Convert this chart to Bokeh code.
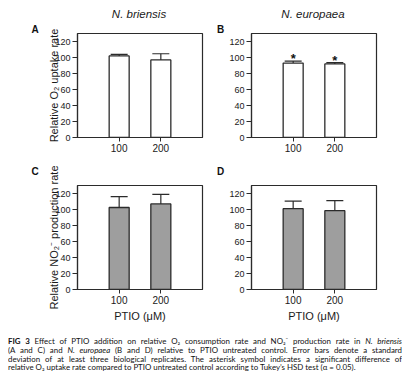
from bokeh.plotting import figure
from bokeh.models import (ColumnDataSource, FactorRange, Range1d, FixedTicker,
                          Whisker, TeeHead, Div)
from bokeh.layouts import column, row
from bokeh.core.properties import value
from bokeh.embed import file_html
from bokeh.resources import INLINE

# ---- data ----
doses = ["100", "200"]
species = ["N. briensis", "N. europaea"]
panel_letters = ["A", "B", "C", "D"]
y_ticks = [0, 20, 40, 60, 80, 100, 120]

o2_briensis = [102, 97]
o2_briensis_sd = [2, 7.7]
o2_europaea = [93, 92]
o2_europaea_sd = [2.5, 1.5]
no2_briensis = [102.5, 107]
no2_briensis_sd = [13.5, 12]
no2_europaea = [101, 98.5]
no2_europaea_sd = [9.5, 12.5]

sig_o2_briensis = ["", ""]
sig_o2_europaea = ["*", "*"]
sig_no2_briensis = ["", ""]
sig_no2_europaea = ["", ""]

ylabel_o2 = "Relative O\u2082 uptake rate"
ylabel_no2 = "Relative NO\u2082\u207b production rate"
xlabel = "PTIO (\u03bcM)"

FONT = "Liberation Sans"
DARK = "#2b2b2b"
TXT = "#1a1a1a"


def make_panel(vals, sds, sig, fill, ylabel, xlab,
               width, height, left, right, top, bottom):
    src = ColumnDataSource(dict(dose=doses, val=vals,
                                upper=[v + s for v, s in zip(vals, sds)],
                                sig=sig))
    p = figure(x_range=FactorRange(*doses, range_padding=0.5,
                                   range_padding_units="absolute"),
               y_range=Range1d(0, 130), width=width, height=height,
               min_border_left=left, min_border_right=right,
               min_border_top=top, min_border_bottom=bottom,
               output_backend="svg", toolbar_location=None, tools="")
    p.xgrid.visible = False
    p.ygrid.visible = False
    p.outline_line_color = DARK
    p.outline_line_width = 1.2
    p.background_fill_color = "white"
    p.border_fill_color = "white"

    p.vbar(x="dose", top="val", width=0.48, source=src, fill_color=fill,
           line_color=DARK, line_width=1.3)
    w = Whisker(base="dose", upper="upper", lower="val", source=src,
                dimension="height", line_color=DARK, line_width=1.2,
                upper_head=TeeHead(size=17, line_color=DARK, line_width=1.2),
                lower_head=None, level="overlay")
    p.add_layout(w)
    p.text(x="dose", y="upper", text="sig", source=src, text_align="center",
           text_baseline="bottom", text_font=value(FONT),
           text_font_size="13px", text_font_style="bold", y_offset=5,
           text_color="#111111")

    ya = p.yaxis[0]
    ya.ticker = FixedTicker(ticks=y_ticks)
    ya.minor_tick_line_color = None
    ya.major_tick_in = 0
    ya.major_tick_out = 5
    ya.major_label_standoff = 2
    ya.axis_line_color = DARK
    ya.axis_line_width = 1.2
    ya.major_tick_line_color = DARK
    ya.major_tick_line_width = 1.1
    ya.major_label_text_font = FONT
    ya.major_label_text_font_size = "9px"
    ya.major_label_text_color = TXT
    if ylabel:
        ya.axis_label = ylabel
        ya.axis_label_text_font = FONT
        ya.axis_label_text_font_size = "11px"
        ya.axis_label_text_font_style = "normal"
        ya.axis_label_text_color = TXT
        ya.axis_label_standoff = -8

    xa = p.xaxis[0]
    xa.major_tick_in = 0
    xa.major_tick_out = 4
    xa.major_label_standoff = 2
    xa.axis_line_color = DARK
    xa.axis_line_width = 1.2
    xa.major_tick_line_color = DARK
    xa.major_label_text_font = FONT
    xa.major_label_text_font_size = "10px"
    xa.major_label_text_color = TXT
    if xlab:
        xa.axis_label = xlab
        xa.axis_label_text_font = FONT
        xa.axis_label_text_font_size = "11px"
        xa.axis_label_text_font_style = "normal"
        xa.axis_label_text_color = TXT
        xa.axis_label_standoff = 3
    return p


# headings (species names) and panel letters, as positioned HTML text
heads_html = ('<div style="position:relative;width:394px;height:14px;'
              'overflow:visible;z-index:10;font-family:\'Liberation Sans\';'
              'color:#1a1a1a">')
for name, cx in zip(species, [131, 305]):
    heads_html += ('<span style="position:absolute;top:0;left:%dpx;width:120px;'
                   'text-align:center;white-space:nowrap;font-size:11.5px;'
                   'line-height:12px;font-style:italic">%s</span>' % (cx - 60, name))
letter_pos = [(23.5, 17), (209, 17), (23.5, 158.5), (209, 158.5)]
for let, (lx, ly) in zip(panel_letters, letter_pos):
    heads_html += ('<span style="position:absolute;z-index:10;left:%.1fpx;'
                   'top:%.1fpx;font-size:10px;line-height:10px;'
                   'font-weight:bold;color:#111111">%s</span>' % (lx, ly, let))
heads_html += '</div>'
heads = Div(text=heads_html, width=394, height=14, margin=0,
            styles={"overflow": "visible", "z-index": "10",
                    "position": "relative"})

pA = make_panel(o2_briensis, o2_briensis_sd, sig_o2_briensis, "white",
                ylabel_o2, None, 197, 139, 69, 3, 11, 24)
pB = make_panel(o2_europaea, o2_europaea_sd, sig_o2_europaea, "white",
                None, None, 197, 139, 46, 26, 11, 24)
pC = make_panel(no2_briensis, no2_briensis_sd, sig_no2_briensis, "#9e9e9e",
                ylabel_no2, xlabel, 197, 164, 69, 3, 24, 36)
pD = make_panel(no2_europaea, no2_europaea_sd, sig_no2_europaea, "#9e9e9e",
                None, xlabel, 197, 164, 46, 26, 24, 36)

caption_lines = [
    ('<b>FIG 3</b> Effect of PTIO addition on relative O\u2082 consumption '
     'rate and NO\u2082\u207b production rate in <i>N. briensis</i>'),
    ('(A and C) and <i>N. europaea</i> (B and D) relative to PTIO untreated '
     'control. Error bars denote a standard'),
    ('deviation of at least three biological replicates. The asterisk symbol '
     'indicates a significant difference of'),
    ('relative O\u2082 uptake rate compared to PTIO untreated control '
     'according to Tukey\u2019s HSD test (\u03b1 = 0.05).'),
]
J = 'style="white-space:nowrap;text-align:justify;text-align-last:justify"'
L = 'style="white-space:nowrap;text-align:left"'
html = ('<div style="font-family:Lato;font-size:7.9px;line-height:8.8px;'
        'color:#111111;width:394px;overflow:hidden">')
for i, ln in enumerate(caption_lines):
    html += '<div %s>%s</div>' % (J if i < len(caption_lines) - 1 else L, ln)
html += '</div>'
cap = Div(text=html, width=394, height=36, margin=(12, 0, 0, 0))

layout = column(heads, row(pA, pB), row(pC, pD), cap, margin=(8, 0, 0, 8))

open("out.html", "w").write(file_html(layout, INLINE))
